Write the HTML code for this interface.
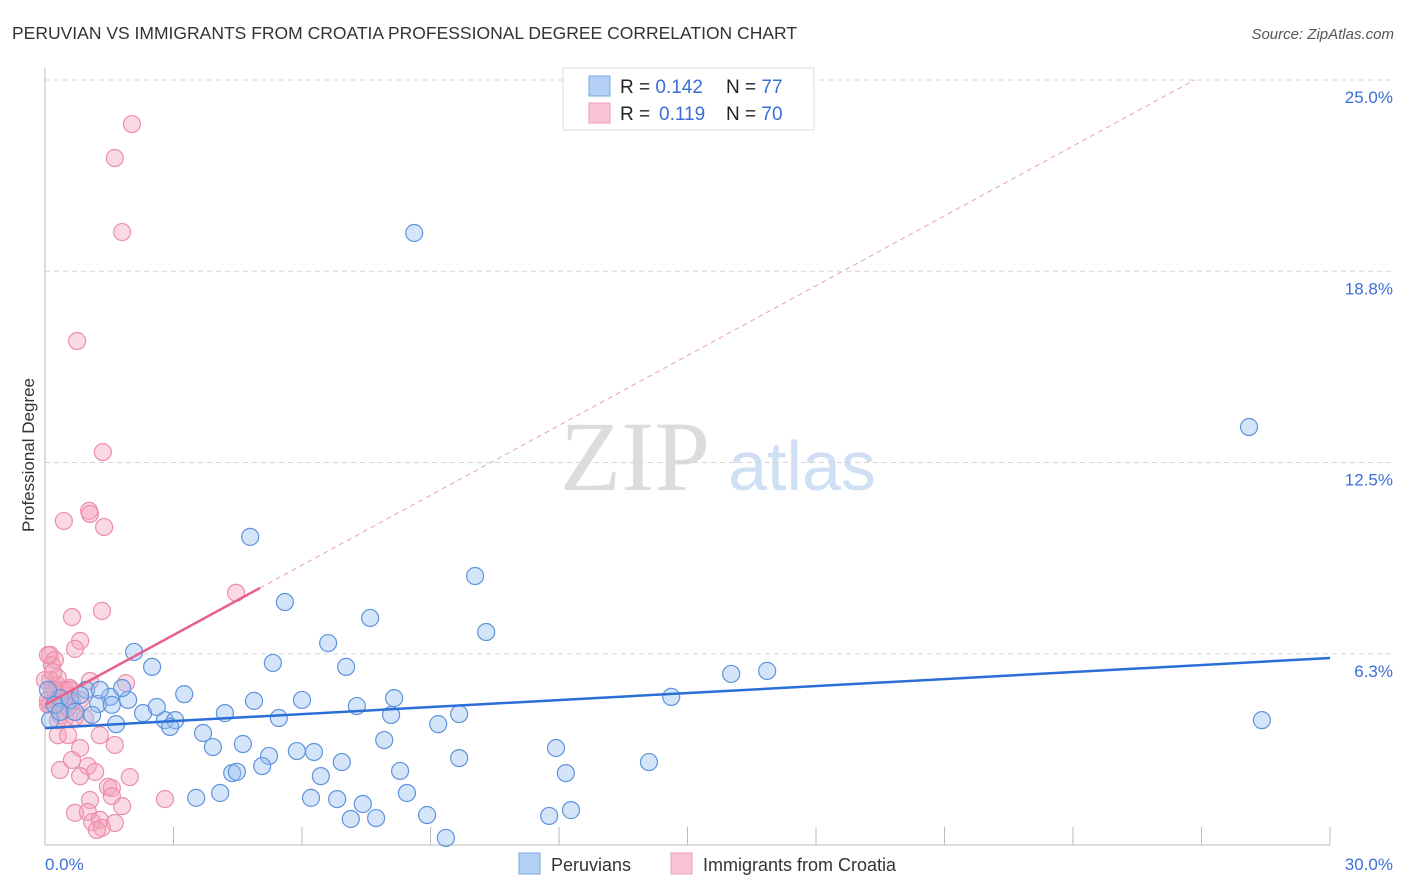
<!DOCTYPE html>
<html><head><meta charset="utf-8"><style>
body{margin:0;background:#fff;font-family:"Liberation Sans",sans-serif}
svg{display:block}
</style></head><body>
<svg id="chart" width="1406" height="892" xmlns="http://www.w3.org/2000/svg">
<text x="12" y="39" font-size="17.5" fill="#333">PERUVIAN VS IMMIGRANTS FROM CROATIA PROFESSIONAL DEGREE CORRELATION CHART</text>
<text x="1394" y="39" font-size="15" fill="#555" font-style="italic" text-anchor="end">Source: ZipAtlas.com</text>
<g>
<text x="635" y="490" font-family="Liberation Serif,serif" font-size="100" fill="#dcdcdc" text-anchor="middle">ZIP</text>
<text x="802" y="490" font-size="70" fill="#cfe0f5" text-anchor="middle">atlas</text>
</g>
<g id="grid"></g>
<g id="axes"></g>
<g id="pts"></g>
<g id="trend"></g>
<text transform="translate(34,455) rotate(-90)" font-size="17" fill="#333" text-anchor="middle">Professional Degree</text>
<g>
<rect x="563" y="68" width="251" height="62" fill="#fff" stroke="#ddd"/>
<rect x="589" y="76" width="21" height="20" fill="#b5d0f5" stroke="#7aa6e3"/>
<rect x="589" y="103" width="21" height="20" fill="#f9c5d4" stroke="#eba0b7"/>
<text x="620" y="93" font-size="19" fill="#222">R = <tspan fill="#3a6fd8">0.142</tspan><tspan x="726">N = </tspan><tspan fill="#3a6fd8">77</tspan></text>
<text x="620" y="120" font-size="19" fill="#222">R = <tspan fill="#3a6fd8" x="659">0.119</tspan><tspan x="726">N = </tspan><tspan fill="#3a6fd8">70</tspan></text>
</g>
<g>
<rect x="519" y="853" width="21" height="21" fill="#b5d0f5" stroke="#7aa6e3"/>
<text x="551" y="871" font-size="18" fill="#333">Peruvians</text>
<rect x="671" y="853" width="21" height="21" fill="#f9c5d4" stroke="#eba0b7"/>
<text x="703" y="871" font-size="18" fill="#333">Immigrants from Croatia</text>
</g>
</svg>
<script>
const blueX=[8.62,28.11,4.79,10.04,5.60,7.59,10.30,6.61,2.08,5.32,7.03,2.50,16.02,16.86,3.25,4.88,6.00,8.15,14.62,7.28,28.41,8.08,9.67,4.20,5.46,2.80,3.04,2.29,2.61,1.94,1.52,1.80,1.24,0.96,0.35,1.10,1.66,2.92,3.69,3.92,4.62,9.18,7.92,11.93,5.23,5.07,5.88,6.28,6.93,9.67,4.37,4.48,6.44,8.29,12.16,14.10,4.09,3.53,6.21,6.82,8.45,7.42,8.92,7.14,7.73,11.77,12.28,9.36,0.12,0.23,0.07,0.58,0.82,1.28,0.35,0.70,1.56];
const blueY=[20.0,13.66,10.07,8.79,7.94,7.42,6.96,6.60,6.31,5.95,5.82,5.82,5.59,5.69,4.93,4.71,4.74,4.80,4.84,4.54,4.08,4.25,4.28,4.31,4.15,4.08,4.08,4.31,4.51,4.74,4.84,5.13,4.61,5.07,4.80,4.25,3.95,3.86,3.66,3.20,3.30,3.95,3.43,3.17,2.91,2.58,3.07,3.04,2.71,2.84,2.35,2.39,2.25,2.42,2.35,2.71,1.70,1.54,1.54,1.50,1.70,1.34,0.98,0.85,0.88,0.95,1.14,0.23,4.08,4.58,5.07,4.74,4.90,5.07,4.35,4.35,4.58];
const pinkX=[2.03,1.63,1.80,0.75,1.35,1.03,0.44,1.05,1.38,4.46,0.63,1.33,0.82,0.70,0.12,0.23,0.16,0.07,1.05,1.89,0.12,0.28,0.47,0.23,0.35,0.54,0.63,0.35,0.47,0.70,0.93,0.07,0.16,0.58,0.30,0.54,1.28,1.63,0.82,0.35,1.00,1.17,0.63,0.82,1.98,2.80,1.47,1.56,1.56,1.05,1.00,1.80,0.70,1.10,1.28,1.33,1.63,1.21,0.12,0.30,0.40,0.00,0.07,0.82,0.54,0.23,0.42,0.58,0.30,0.19];
const pinkY=[23.56,22.45,20.03,16.47,12.84,10.92,10.59,10.82,10.39,8.24,7.45,7.65,6.67,6.41,6.21,6.05,5.88,6.21,5.36,5.29,5.39,5.23,5.07,4.74,4.58,4.90,4.67,4.25,4.15,4.18,4.15,4.58,5.07,5.13,3.59,3.59,3.59,3.27,3.17,2.45,2.58,2.39,2.78,2.25,2.22,1.50,1.90,1.86,1.60,1.47,1.08,1.27,1.05,0.75,0.82,0.56,0.72,0.49,4.58,4.08,5.07,5.39,4.74,4.74,4.48,5.07,4.74,5.07,5.46,5.65];
const yTicks=[25.0,18.8,12.5,6.3];
const yTickVals=[25,18.75,12.5,6.25];
const xTickLabels=["0.0%","30.0%"];
const blueTrend=[3.82,6.11];
const pinkTrend=[4.58,8.40];
const pinkTrendEndX=5.02;

const NS="http://www.w3.org/2000/svg";
const X0=45,X1=1330,Y0=845,PXPERY=30.6;
const sx=v=>X0+v*(X1-X0)/30;
const sy=v=>Y0-v*PXPERY;
function mk(tag,attrs,parent){const e=document.createElementNS(NS,tag);for(const k in attrs)e.setAttribute(k,attrs[k]);parent.appendChild(e);return e;}
const grid=document.getElementById('grid'),axes=document.getElementById('axes'),pts=document.getElementById('pts'),trend=document.getElementById('trend');
yTickVals.forEach((v,i)=>{
 const l=mk('line',{x1:X0,x2:1395,y1:sy(v),y2:sy(v),stroke:'#d5d5d5','stroke-dasharray':'5,4'},grid);
 
 
 const t=mk('text',{x:1393,y:sy(v)+23,'font-size':17,fill:'#3a6fd8','text-anchor':'end'},axes);
 t.textContent=yTicks[i].toFixed(1)+'%';
 
 
});
const ya=mk('line',{x1:X0,x2:X0,y1:68,y2:Y0,stroke:'#bbb'},axes);


const xa=mk('line',{x1:X0,x2:X1,y1:Y0,y2:Y0,stroke:'#bbb'},axes);


for(let i=0;i<=10;i++){
 const tk=mk('line',{x1:sx(i*3),x2:sx(i*3),y1:827,y2:Y0,stroke:'#bbb'},axes);
 
 
}
const xl0=mk('text',{x:45,y:870,'font-size':17,fill:'#3a6fd8'},axes);
xl0.textContent=xTickLabels[0];


const xl1=mk('text',{x:1393,y:870,'font-size':17,fill:'#3a6fd8','text-anchor':'end'},axes);
xl1.textContent=xTickLabels[1];


pinkX.forEach((x,i)=>{
 const c=mk('circle',{cx:sx(x),cy:sy(pinkY[i]),r:8.5,fill:'rgba(244,160,185,0.4)',stroke:'#eb8fab','stroke-width':1.2},pts);
 
 
});
blueX.forEach((x,i)=>{
 const c=mk('circle',{cx:sx(x),cy:sy(blueY[i]),r:8.5,fill:'rgba(150,190,240,0.4)',stroke:'#5f93dc','stroke-width':1.2},pts);
 
 
});
const slope=(pinkTrend[1]-pinkTrend[0])/pinkTrendEndX;
const xEnd=(25-pinkTrend[0])/slope;
const pd=mk('line',{x1:sx(pinkTrendEndX),y1:sy(pinkTrend[1]),x2:sx(xEnd),y2:sy(25),stroke:'#eba0b7','stroke-width':1,'stroke-dasharray':'5,4'},trend);


const pl=mk('line',{x1:sx(0),y1:sy(pinkTrend[0]),x2:sx(pinkTrendEndX),y2:sy(pinkTrend[1]),stroke:'#e8608c','stroke-width':2.5},trend);


const bl=mk('line',{x1:sx(0),y1:sy(blueTrend[0]),x2:sx(30),y2:sy(blueTrend[1]),stroke:'#2a6fd6','stroke-width':2.5},trend);


</script>
</body></html>
